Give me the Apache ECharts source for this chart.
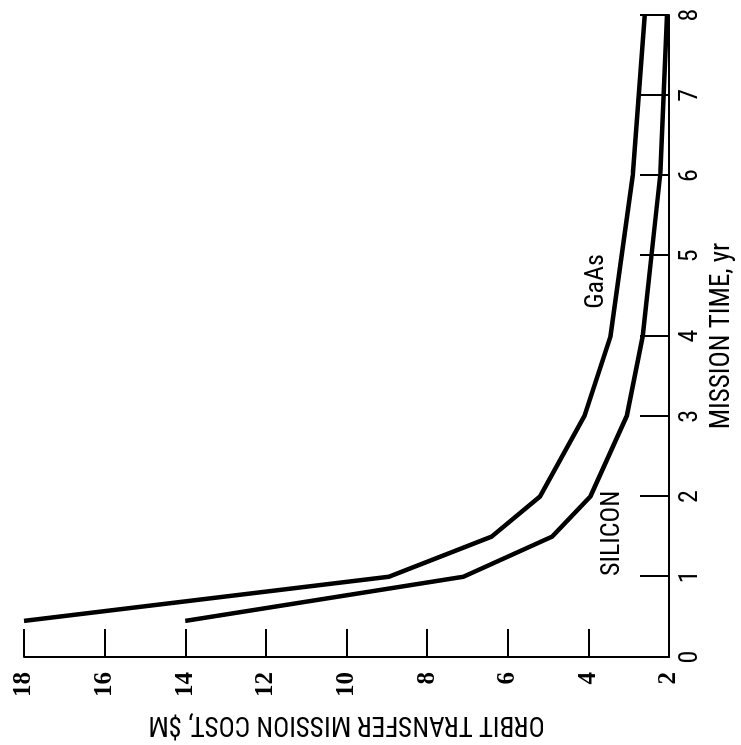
<!DOCTYPE html>
<html>
<head>
<meta charset="utf-8">
<title>Orbit transfer mission cost</title>
<script src="https://cdn.jsdelivr.net/npm/echarts@6/dist/echarts.min.js"></script>
<style>
  html, body { margin: 0; padding: 0; background: #fff; }
  /* the figure is printed turned a quarter turn to the left */
  #chart {
    position: absolute; left: 0; top: 0;
    width: 745px; height: 741px;
    transform-origin: 0 0;
    transform: translate(0px, 745px) rotate(-90deg);
  }
</style>
</head>
<body>
<div id="chart"></div>
<script>
// mission time, yr
const gaasTime = [0.45, 1, 1.5, 2, 3, 4, 6, 8];
// orbit transfer mission cost, $M
const gaasCost = [18, 8.95, 6.4, 5.2, 4.1, 3.45, 2.9, 2.6];
const siliconTime = [0.45, 1, 1.5, 2, 3, 4, 6, 8];
const siliconCost = [14, 7.1, 4.9, 3.95, 3.05, 2.65, 2.22, 2.05];

const sansFont = '"Roboto Condensed", "DejaVu Sans Condensed", sans-serif';
const serifFont = '"Liberation Serif", "DejaVu Serif", serif';

const myChart = echarts.init(document.getElementById('chart'));

const lineStyle = { color: '#000', width: 4.5 };

const option = {
  animation: false,
  backgroundColor: '#fff',
  grid: { left: 86, right: 15, top: 24, bottom: 67 },
  xAxis: {
    type: 'value',
    min: 0,
    max: 8,
    interval: 1,
    name: 'MISSION TIME, yr',
    nameLocation: 'middle',
    nameGap: 40,
    nameTextStyle: { fontFamily: sansFont, fontSize: 27, color: '#000' },
    axisLine: { show: true, onZero: false, lineStyle: { color: '#000', width: 2 } },
    axisTick: { show: true, inside: true, length: 29, lineStyle: { color: '#000', width: 2 } },
    axisLabel: { fontFamily: sansFont, fontSize: 26, color: '#000', margin: 8 },
    splitLine: { show: false }
  },
  yAxis: {
    type: 'value',
    min: 2,
    max: 18,
    interval: 2,
    name: 'ORBIT TRANSFER MISSION COST, $M',
    nameLocation: 'middle',
    nameGap: 53,
    nameTextStyle: { fontFamily: sansFont, fontSize: 27, color: '#000' },
    axisLine: { show: true, onZero: false, lineStyle: { color: '#000', width: 2 } },
    axisTick: { show: true, inside: true, length: 28, lineStyle: { color: '#000', width: 2 } },
    axisLabel: { fontFamily: serifFont, fontWeight: 'bold', fontSize: 25, color: '#000', margin: 15 },
    splitLine: { show: false }
  },
  series: [
    {
      name: 'GaAs',
      type: 'line',
      data: gaasTime.map((t, i) => [t, gaasCost[i]]),
      symbol: 'none',
      lineStyle: lineStyle,
      markPoint: {
        symbol: 'circle',
        symbolSize: 0,
        label: { show: true, position: 'inside', formatter: 'GaAs', fontFamily: sansFont, fontSize: 26, color: '#000' },
        data: [{ coord: [4.68, 3.8] }]
      }
    },
    {
      name: 'SILICON',
      type: 'line',
      data: siliconTime.map((t, i) => [t, siliconCost[i]]),
      symbol: 'none',
      lineStyle: lineStyle,
      markPoint: {
        symbol: 'circle',
        symbolSize: 0,
        label: { show: true, position: 'inside', formatter: 'SILICON', fontFamily: sansFont, fontSize: 26, color: '#000' },
        data: [{ coord: [1.54, 3.4] }]
      }
    }
  ]
};

myChart.setOption(option);
</script>
</body>
</html>
